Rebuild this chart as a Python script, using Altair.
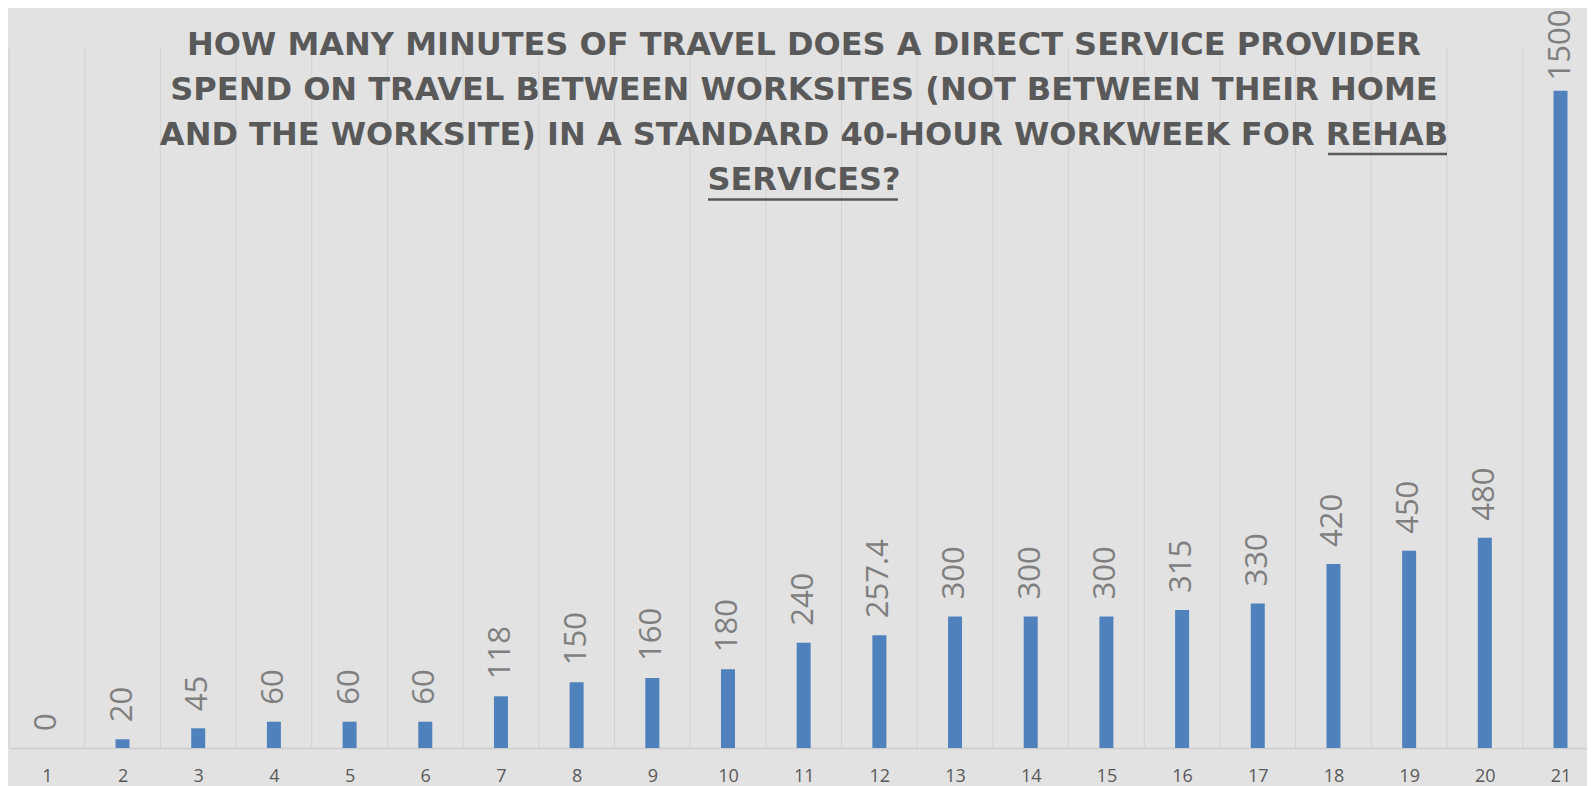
import altair as alt
import pandas as pd

categories = list(range(1, 22))
minutes = [0, 20, 45, 60, 60, 60, 118, 150, 160, 180, 240, 257.4, 300, 300, 300,
           315, 330, 420, 450, 480, 1500]
value_labels = ["0", "20", "45", "60", "60", "60", "118", "150", "160", "180", "240",
                "257.4", "300", "300", "300", "315", "330", "420", "450", "480", "1500"]
title_lines = [
    "HOW MANY MINUTES OF TRAVEL DOES A DIRECT SERVICE PROVIDER",
    "SPEND ON TRAVEL BETWEEN WORKSITES (NOT BETWEEN THEIR HOME",
    "AND THE WORKSITE) IN A STANDARD 40-HOUR WORKWEEK FOR REHAB",
    "SERVICES?",
]

df = pd.DataFrame({"cat": categories, "minutes": minutes, "label": value_labels})

W, H = 1578, 701
x_scale = alt.Scale(domain=[0.5, 21.35], nice=False, zero=False, padding=0)
y_scale = alt.Scale(domain=[0, 1600], nice=False)
x_axis = alt.Axis(values=categories, format="d", title=None, ticks=False, grid=False,
                  domainColor="#cdcdcd", domainWidth=1.5, labelFont="Open Sans",
                  labelFontSize=18, labelColor="#595959", labelPadding=19,
                  labelFlush=False, labelOverlap=False)

base = alt.Chart(df)

grid = base.transform_calculate(edge="datum.cat - 0.5").mark_rule(
    color="#d2d2d2", strokeWidth=1
).encode(
    x=alt.X("edge:Q", scale=x_scale, axis=x_axis),
    y=alt.value(0),
    y2=alt.value(H),
)

bars = base.mark_bar(color="#4F81BD", size=14).encode(
    x=alt.X("cat:Q", scale=x_scale, axis=x_axis),
    y=alt.Y("minutes:Q", scale=y_scale, axis=None),
)

labels = base.transform_calculate(ly="min(datum.minutes, 1485)").mark_text(
    angle=270, align="left", baseline="middle", dx=17,
    font="Open Sans", fontSize=31, color="#7f7f7f"
).encode(
    x=alt.X("cat:Q", scale=x_scale, axis=x_axis),
    y=alt.Y("ly:Q", scale=y_scale, axis=None),
    text="label:N",
)

one = pd.DataFrame({"k": [0]})
title = alt.Chart(one).mark_text(
    font="DejaVu Sans", fontWeight="bold", fontSize=32, color="#595959",
    align="center", baseline="middle", lineHeight=45
).encode(x=alt.value(795), y=alt.value(-2), text=alt.value(title_lines))

ul1 = alt.Chart(one).mark_rule(color="#595959", strokeWidth=2.5).encode(
    x=alt.value(1319), x2=alt.value(1438), y=alt.value(107))
ul2 = alt.Chart(one).mark_rule(color="#595959", strokeWidth=2.5).encode(
    x=alt.value(699), x2=alt.value(889), y=alt.value(152.5))

chart = alt.layer(grid, bars, labels, title, ul1, ul2).properties(
    width=W, height=H,
    autosize=alt.AutoSizeParams(type="none"),
    padding={"left": 1, "top": 39, "right": 0, "bottom": 38},
    background="#e2e2e2",
).configure_view(stroke=None)

chart.save("out.html", embed_options={"renderer": "svg", "actions": False})
